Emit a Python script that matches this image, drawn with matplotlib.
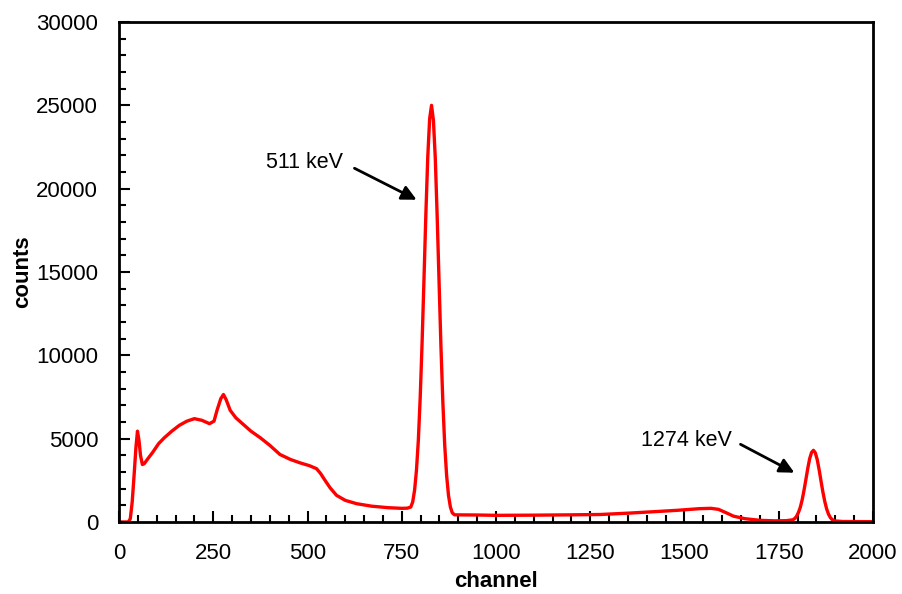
import matplotlib
matplotlib.use("Agg")
import matplotlib.pyplot as plt
from matplotlib.ticker import MultipleLocator

plt.rcParams['font.family'] = ['Liberation Sans', 'DejaVu Sans']

channel = [0, 10, 25, 30, 35, 40, 45, 49, 53, 57, 62, 67, 75, 90, 105, 120, 140, 160,
           180, 200, 220, 240, 252, 260, 270, 277, 284, 295, 310, 330, 350, 375, 400,
           427, 455, 480, 505, 524, 535, 545, 560, 577, 600, 630, 670, 713, 750, 765,
           774, 779, 784, 789, 794, 799, 804, 809, 814, 819, 824, 829, 834, 839, 844,
           849, 854, 859, 864, 869, 874, 879, 884, 890, 950, 1000, 1100, 1200, 1276,
           1350, 1420, 1480, 1540, 1570, 1590, 1610, 1630, 1660, 1700, 1740, 1770,
           1787, 1792, 1797, 1802, 1807, 1812, 1817, 1822, 1827, 1832, 1837, 1842,
           1847, 1852, 1857, 1862, 1867, 1872, 1877, 1882, 1887, 1892, 1900, 1920,
           1950, 2000]
counts = [0, 0, 0, 200, 1200, 2800, 4500, 5450, 4900, 4000, 3450, 3500, 3750, 4200,
          4700, 5050, 5450, 5800, 6050, 6200, 6100, 5900, 6050, 6700, 7400, 7650, 7350,
          6700, 6250, 5850, 5450, 5050, 4600, 4050, 3750, 3550, 3380, 3200, 2900, 2550,
          2050, 1600, 1300, 1100, 950, 860, 820, 830,
          900, 1200, 1900, 3100, 4900, 7500, 10800, 14600, 18500, 21900, 24200, 25000,
          24100, 21800, 18300, 14400, 10500, 7200, 4600, 2800, 1600, 900, 550, 430,
          420, 400, 410, 430, 450, 530, 620, 700, 800, 820, 760, 560, 350, 200, 100,
          70, 80, 130, 200, 330, 560, 870, 1320, 1900, 2550, 3220, 3800, 4170, 4300,
          4150, 3750, 3150, 2470, 1810, 1240, 790, 470, 260, 140, 60, 30, 25, 20]

x_ticks = [0, 250, 500, 750, 1000, 1250, 1500, 1750, 2000]
y_ticks = [0, 5000, 10000, 15000, 20000, 25000, 30000]

fig = plt.figure(figsize=(9.03, 5.94), dpi=100)
ax = fig.add_axes([119/903, 72/594, 754/903, 500/594])

ax.plot(channel, counts, color='#ff0000', lw=2.4, solid_joinstyle='round')

ax.set_xlim(0, 2000)
ax.set_ylim(0, 30000)
ax.set_xticks(x_ticks)
ax.set_yticks(y_ticks)
ax.xaxis.set_minor_locator(MultipleLocator(50))
ax.yaxis.set_minor_locator(MultipleLocator(1000))
ax.tick_params(which='both', direction='in', width=1.5, labelsize=16, colors='black')
ax.tick_params(which='major', length=8)
ax.tick_params(axis='y', which='major', pad=15)
ax.tick_params(axis='x', which='major', pad=15)
ax.tick_params(which='minor', length=5)
for s in ax.spines.values():
    s.set_linewidth(2)

ax.set_xlabel('channel', fontsize=16, fontweight='bold', labelpad=5)
ax.set_ylabel('counts', fontsize=16, fontweight='bold', labelpad=2)

ax.text(493, 21540, '511 keV', fontsize=15.5, ha='center', va='center')
ax.annotate('', xy=(796, 19260), xytext=(618, 21300),
            arrowprops=dict(arrowstyle='-|>', lw=2, color='black', mutation_scale=22))
ax.text(1504, 4920, '1274 keV', fontsize=15.5, ha='center', va='center')
ax.annotate('', xy=(1798, 2880), xytext=(1642, 4740),
            arrowprops=dict(arrowstyle='-|>', lw=2, color='black', mutation_scale=22))

fig.savefig('out.png', dpi=100)
